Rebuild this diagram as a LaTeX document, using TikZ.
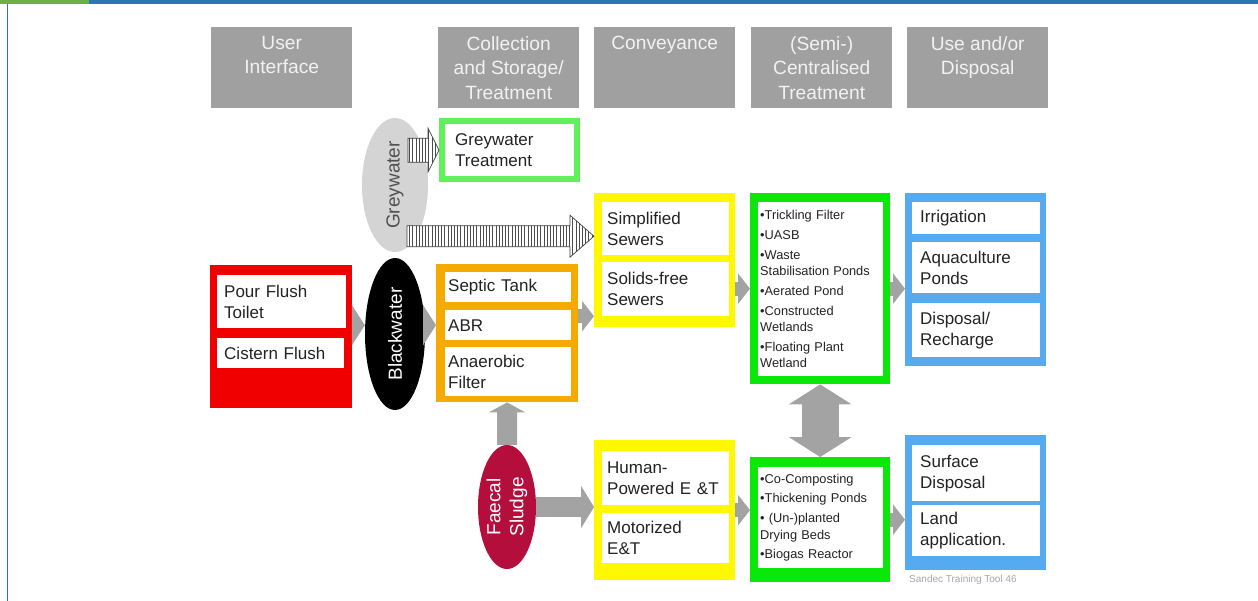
\documentclass[tikz,border=0pt]{standalone}
\usepackage{fontspec}
\setmainfont{Liberation Sans}
\usetikzlibrary{shapes.geometric,arrows.meta,calc,patterns.meta}
\definecolor{hdrgray}{RGB}{160,160,160}
\definecolor{hdrtext}{RGB}{242,242,242}
\definecolor{celltext}{RGB}{35,35,35}
\definecolor{redbox}{RGB}{240,0,0}
\definecolor{orangebox}{RGB}{245,170,0}
\definecolor{yellowbox}{RGB}{255,248,0}
\definecolor{greenbox}{RGB}{10,232,10}
\definecolor{lightgreen}{RGB}{95,240,90}
\definecolor{bluebox}{RGB}{85,170,240}
\definecolor{arrowgray}{RGB}{163,163,163}
\definecolor{gwgray}{RGB}{212,212,212}
\definecolor{gwtext}{RGB}{80,80,80}
\definecolor{fsred}{RGB}{180,15,60}
\definecolor{topblue}{RGB}{46,117,182}
\definecolor{topgreen}{RGB}{112,173,71}
\newcommand\setfs[2]{\fontsize{#1}{#2}\selectfont}
% striped block arrow: from, to, half shaft, half head, head length
\newcommand\hatcharrow[5]{%
  \path[hatch] let \p1=(#1), \p2=(#2) in
    (\x1,\y2+#3pt) -- (\x2-#5pt,\y2+#3pt) -- (\x2-#5pt,\y2+#4pt) -- (\x2,\y2)
    -- (\x2-#5pt,\y2-#4pt) -- (\x2-#5pt,\y2-#3pt) -- (\x1,\y2-#3pt) -- cycle;}
\begin{document}
\begin{tikzpicture}[x=1pt, y=-1pt,
    hdr/.style={fill=hdrgray, minimum width=141, minimum height=81, anchor=north west, inner sep=0},
    hdrtxt/.style={anchor=north, align=center, text=hdrtext, font=\setfs{19.2}{24.5}, inner sep=0, yshift=-9},
    outer/.style={fill=#1, anchor=north west, inner sep=0},
    cell/.style={fill=white, anchor=north west, align=left, inner xsep=5, inner ysep=0, text width=117pt, font=\setfs{17}{21}, text=celltext},
    bcell/.style={cell, inner xsep=8, text width=112pt},
    lcell/.style={cell, inner xsep=2, text width=121pt, font=\setfs{12.8}{16.3}},
    blob/.style={ellipse, rotate=90, inner sep=0, font=\setfs{19}{23}},
    blk/.style n args={3}{draw=arrowgray, line width=#1, -{Triangle[length=#2,width=#3]}},
    hatch/.style={draw=black!75, line width=0.7pt, preaction={fill=white},
      pattern={Lines[angle=90,distance=3.2pt,line width=0.8pt]}, pattern color=black!70}]
  \fill[white] (0,0) rectangle (1258,601);
  \useasboundingbox (0,0) rectangle (1258,601);
  \fill[topblue] (0,0) rectangle (1258,4);      % top bar
  \fill[topgreen] (0,0) rectangle (89,4);
  \draw[topblue, line width=1.5] (7.5,4) -- (7.5,601); % left edge
  %
  \node[hdr] (hUI) at (211,27) {};              % headers
  \node[hdrtxt] (tUI) at (hUI.north) {User\\Interface};
  \node[hdr] (hCS) at (438,27) {};
  \node[hdrtxt] (tCS) at (hCS.north) {Collection\\and Storage/\\Treatment};
  \node[hdr] (hCV) at (594,27) {};
  \node[hdrtxt] (tCV) at (hCV.north) {Conveyance};
  \node[hdr] (hCT) at (751,27) {};
  \node[hdrtxt] (tCT) at (hCT.north) {(Semi-)\\Centralised\\Treatment};
  \node[hdr] (hUD) at (907,27) {};
  \node[hdrtxt] (tUD) at (hUD.north) {Use and/or\\Disposal};
  %
  \node[outer=redbox, minimum width=142, minimum height=143] (red) at (210,265) {}; % user interface
  \node[cell, minimum height=53, inner xsep=7, text width=115pt] (pft) at (217,275) {Pour Flush\\Toilet};
  \node[cell, minimum height=30, inner xsep=7, text width=113pt] (cfl) at (217,338) {Cistern Flush};
  %
  \node[outer=lightgreen, minimum width=141, minimum height=64] (gwt) at (439,118) {}; % collection
  \node[cell, minimum height=52, inner xsep=10, text width=109pt] (gwc) at (445,124) {Greywater\\Treatment};
  \node[outer=orangebox, minimum width=142, minimum height=138] (orng) at (436,264) {};
  \node[cell, minimum height=30, inner xsep=3, text width=120pt] (sep) at (445,272) {Septic Tank};
  \node[cell, minimum height=30, inner xsep=3, text width=120pt] (abr) at (445,310) {ABR};
  \node[cell, minimum height=49, inner xsep=3, text width=120pt] (anf) at (445,347) {Anaerobic\\Filter};
  %
  \node[outer=yellowbox, minimum width=141, minimum height=134] (ytop) at (594,193) {}; % conveyance
  \node[cell, minimum height=53] (sim) at (602,202) {Simplified\\Sewers};
  \node[cell, minimum height=54] (sfs) at (602,262) {Solids-free\\Sewers};
  \node[outer=yellowbox, minimum width=141, minimum height=140] (ybot) at (594,440) {};
  \node[cell, minimum height=54] (hpw) at (602,451) {Human-\\Powered E \&T};
  \node[cell, minimum height=50] (mot) at (602,513) {Motorized\\E\&T};
  %
  \node[outer=greenbox, minimum width=140, minimum height=191] (gtop) at (750,193) {}; % treatment
  \node[lcell, minimum height=174] (ctr) at (758,202) {•Trickling Filter\\[3.5pt]•UASB\\[3.5pt]•Waste\\Stabilisation Ponds\\[3.5pt]•Aerated Pond\\[3.5pt]•Constructed\\Wetlands\\[3.5pt]•Floating Plant\\Wetland};
  \node[outer=greenbox, minimum width=140, minimum height=125] (gbot) at (750,457) {};
  \node[lcell, minimum height=101] (fst) at (758,467) {•Co-Composting\\[3.5pt]•Thickening Ponds\\[3.5pt]• (Un-)planted\\Drying Beds\\[3.5pt]•Biogas Reactor};
  %
  \node[outer=bluebox, minimum width=141, minimum height=173] (btop) at (905,193) {}; % use
  \node[bcell, minimum height=32] (irr) at (912,202) {Irrigation};
  \node[bcell, minimum height=51] (aqu) at (912,242) {Aquaculture\\Ponds};
  \node[bcell, minimum height=54] (dsp) at (912,303) {Disposal/\\Recharge};
  \node[outer=bluebox, minimum width=141, minimum height=135] (bbot) at (905,435) {};
  \node[bcell, minimum height=56] (srf) at (912,445) {Surface\\Disposal};
  \node[bcell, minimum height=51] (lnd) at (912,505) {Land\\application.};
  %
  \node[blob, fill=gwgray, minimum width=134, minimum height=66, text=gwtext] (gw) at (395,185) {Greywater};
  \node[blob, fill=black, minimum width=152, minimum height=60, text=white] (bw) at (395,334) {Blackwater};
  \node[blob, fill=fsred, minimum width=124, minimum height=58, text=white, align=center] (fs) at (507,507) {Faecal\\Sludge};
  %
  \draw[blk={22pt}{13pt}{40pt}] (red.east |- abr) -- (bw.north |- abr);
  \draw[blk={22pt}{13pt}{40pt}] (bw.south |- abr) -- (orng.west |- abr);
  \draw[blk={20pt}{10pt}{36pt}] (fs.east) -- (orng.south);
  \draw[blk={20pt}{13pt}{42pt}] (fs.south) -- (fs.south -| ybot.west);
  \draw[blk={14pt}{12pt}{30pt}] ([yshift=17pt]orng.east) -- ([yshift=17pt]orng.east -| ytop.west);
  \draw[blk={14pt}{12pt}{30pt}] (ytop.east |- gtop.west) -- (gtop.west);
  \draw[blk={14pt}{12pt}{30pt}] (gtop.east) -- (gtop.east -| btop.west);
  \draw[blk={14pt}{12pt}{30pt}] (ybot.east) -- (ybot.east -| gbot.west);
  \draw[blk={14pt}{12pt}{30pt}] (gbot.east) -- (gbot.east -| bbot.west);
  \draw[draw=arrowgray, line width=37pt, {Triangle[length=20pt,width=62pt]}-{Triangle[length=20pt,width=62pt]}] (gtop.south) -- (gbot.north);
  %
  \hatcharrow{[xshift=13pt]gw.center}{gwt.west}{12}{22}{11}
  \hatcharrow{[xshift=12pt]gw.center}{[yshift=24pt]ytop.west}{10.5}{21}{24}
  %
  \node[anchor=west, text=black!35, font=\setfs{10}{12}, inner sep=0] (src) at (909,580) {Sandec Training Tool 46};
\end{tikzpicture}
\end{document}
